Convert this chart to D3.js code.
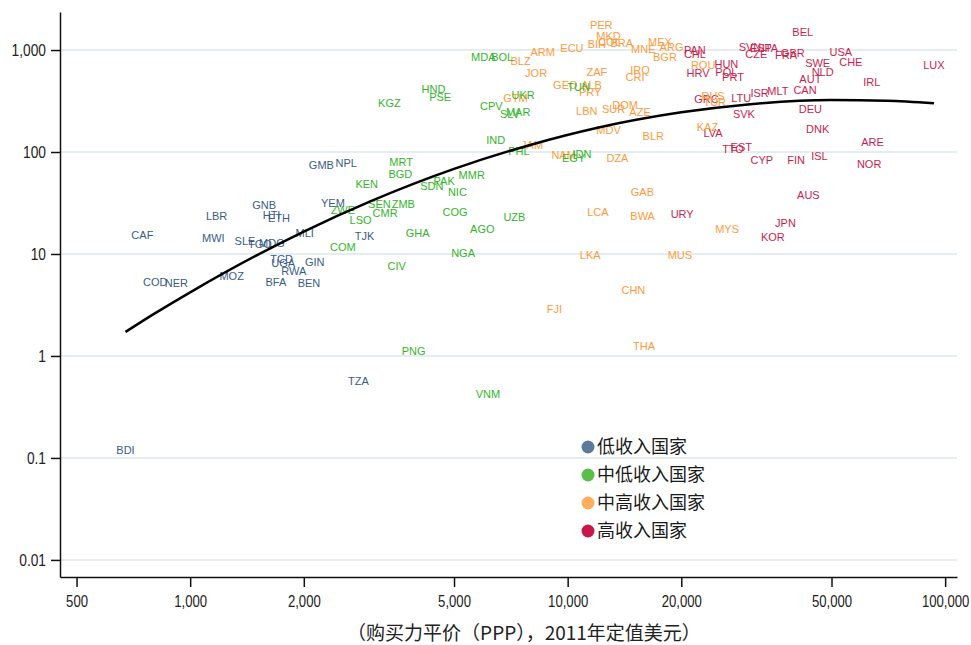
<!DOCTYPE html>
<html>
<head>
<meta charset="utf-8">
<script src="https://cdn.jsdelivr.net/npm/d3@7"></script>
<style>
  body { margin: 0; background: #fff; }
  .axis text { font-family: "Liberation Sans", Arial, sans-serif; font-size: 16px; fill: #222; }
  .axis path, .axis line { stroke: #111; stroke-width: 1.5; }
  .code { font-family: "Liberation Sans", Arial, sans-serif; font-size: 11px; }
  .legend text { font-family: "Noto Sans CJK SC", sans-serif; font-size: 18px; fill: #1a1a1a; }
  .title { font-family: "Noto Sans CJK SC", sans-serif; font-size: 19px; fill: #222; }
</style>
</head>
<body>
<svg id="chart" width="971" height="645"></svg>
<script>
// low income
let lowCodes = ['CAF','LBR','MWI','GNB','HTI','ETH','SLE','TGO','MDG','MLI','TCD','UGA','RWA','GIN','COD','NER','MOZ','BFA','BEN','GMB','NPL','YEM','TJK','TZA','BDI'];
let lowGdp   = [747,1175,1152,1570,1643,1718,1397,1530,1646,2011,1746,1763,1881,2137,808,919,1288,1687,2064,2226,2591,2388,2895,2792,674];
let lowVal   = [15.2,23.4,14.5,30.0,24.0,22.7,13.4,12.45,12.7,15.95,8.87,8.22,6.81,8.29,5.28,5.16,6.08,5.28,5.16,74.6,78.6,31.8,15.1,0.569,0.12];

// lower middle income
let lmCodes = ['MRT','BGD','KEN','SEN','ZMB','ZWE','CMR','LSO','COM','GHA','SDN','PAK','MMR','NIC','COG','AGO','UZB','NGA','CIV','KGZ','HND','PSE','CPV','MDA','BOL','UKR','SLV','MAR','IND','PHL','EGY','IDN','TUN','PNG','VNM'];
let lmGdp   = [3620,3603,2936,3172,3669,2538,3284,2827,2538,4003,4369,4708,5570,5104,5033,5941,7226,5284,3524,3371,4412,4595,6275,5976,6706,7623,7031,7394,6445,7425,10370,10905,10690,3907,6151];
let lmVal   = [79.3,60.8,48.6,30.9,30.9,27.0,25.1,21.4,11.8,15.95,46.7,52.0,59.9,40.3,25.6,17.5,23.05,10.16,7.58,304,412,348,282,848,848,362,234,248,131,103,86.8,95.6,437,1.127,0.424];

// upper middle income
let umCodes = ['GTM','JAM','NAM','GEO','ALB','PRY','LBN','SUR','DOM','AZE','MDV','BLR','PER','MKD','BIH','COL','BRA','MEX','MNE','ARG','BGR','ECU','ARM','BLZ','JOR','ZAF','IRQ','CRI','ROU','RUS','TUR','KAZ','MYS','DZA','GAB','LCA','BWA','LKA','MUS','CHN','FJI','THA'];
let umGdp   = [7278,8050,9759,9860,11568,11477,11240,13226,14196,15553,12830,16860,12270,12830,11950,12905,13908,17560,15866,18845,18100,10264,8590,7503,8250,11950,15553,15087,22850,24280,24530,23460,26440,13550,15773,12022,15800,11477,19830,14930,9224,15936];
let umVal   = [336,117,93.4,454,454,390,254,264,289,248,164,143.5,1759,1372,1145,1206,1163,1206,1016,1063,860,1039,949,780,591,613,637,547,713,354,311,174.7,17.6,86.8,40.5,25.8,23.6,9.78,9.78,4.44,2.87,1.253];

// high income
let hiCodes = ['PAN','CHL','HUN','HRV','POL','PRT','SVN','ESP','ITA','CZE','FRA','GBR','BEL','USA','SWE','CHE','NLD','AUT','CAN','IRL','LUX','ISR','MLT','LTU','GRC','SVK','DEU','DNK','LVA','TTO','EST','CYP','FIN','ISL','ARE','NOR','AUS','JPN','KOR','URY'];
let hiGdp   = [21730,21730,26330,22160,26330,27420,30400,32510,34330,31590,37900,39480,41950,52930,45950,56250,47370,43950,42540,63910,93400,32250,36040,28840,23320,29310,43950,45950,24280,27420,28840,32700,40270,46440,64180,62900,43420,37760,34960,20110];
let hiVal   = [1000,914,729,599,613,540,1070,1058,1058,914,894,941,1512,949,741,768,605,516,405,482,713,381,396,336,329,234,264,168,154.6,106.3,112.7,82.9,82.9,91.4,124.5,75.8,37.6,20.0,14.8,24.7];

// fitted trend
let trendGdp = [674,800,1000,1500,2000,3000,5000,8000,12000,20000,30000,50000,70000,93400];
let trendVal = [1.72,2.57,4.21,9.70,16.6,32.8,68.3,118,173,245,293,323,319,301];

let xTicks = [500,1000,2000,5000,10000,20000,50000,100000];
let yTicks = [0.01,0.1,1,10,100,1000];

let groups = [
  {name: '高收入国家',   codes: hiCodes,  gdp: hiGdp,  val: hiVal,  text: '#c81e4e', dot: '#c8184a'},
  {name: '中高收入国家', codes: umCodes,  gdp: umGdp,  val: umVal,  text: '#ff9a3c', dot: '#ffae5e'},
  {name: '中低收入国家', codes: lmCodes,  gdp: lmGdp,  val: lmVal,  text: '#33b52b', dot: '#5bbd4a'},
  {name: '低收入国家',   codes: lowCodes, gdp: lowGdp, val: lowVal, text: '#3a5c84', dot: '#5b7a99'}
];
let legendOrder = ['低收入国家','中低收入国家','中高收入国家','高收入国家'];

let svg = d3.select('#chart');

let x = d3.scaleLog().domain([452, 107500]).range([60, 957]);
let y = d3.scaleLog().domain([0.0068, 2360]).range([577, 12]);
let fmt = d3.format(',');

// gridlines
svg.append('g').selectAll('line')
    .data(yTicks).enter().append('line')
    .attr('x1', 60).attr('x2', 957)
    .attr('y1', d => y(d)).attr('y2', d => y(d))
    .style('stroke', '#e6edf1').style('stroke-width', 2);

// country codes
groups.forEach(function(g) {
  svg.append('g').selectAll('text')
      .data(g.codes).enter().append('text')
      .classed('code', true)
      .attr('x', (d, i) => x(g.gdp[i]))
      .attr('y', (d, i) => y(g.val[i]))
      .attr('text-anchor', 'middle')
      .attr('dominant-baseline', 'central')
      .style('fill', g.text)
      .text(d => d);
});

// trend
let line = d3.line()
    .x((d, i) => x(trendGdp[i]))
    .y((d, i) => y(trendVal[i]))
    .curve(d3.curveMonotoneX);
svg.append('path')
    .attr('d', line(trendGdp))
    .style('fill', 'none').style('stroke', '#000').style('stroke-width', 2.5);

// axes
let yAxis = svg.append('g').classed('axis', true)
    .attr('transform', 'translate(60,0)')
    .call(d3.axisLeft(y).tickValues(yTicks).tickFormat(fmt).tickSize(9).tickSizeOuter(0).tickPadding(5));
let xAxis = svg.append('g').classed('axis', true)
    .attr('transform', 'translate(0,577)')
    .call(d3.axisBottom(x).tickValues(xTicks).tickFormat(fmt).tickSize(10).tickSizeOuter(0).tickPadding(9));

// narrow the tick labels, the original uses a condensed face
yAxis.selectAll('.tick text')
    .attr('x', 0)
    .attr('transform', 'translate(-14,0) scale(0.86,1)');
xAxis.selectAll('.tick text')
    .attr('transform', 'scale(0.82,1)');

svg.append('text').classed('title', true)
    .attr('x', 524).attr('y', 640)
    .attr('text-anchor', 'middle')
    .text('（购买力平价（PPP），2011年定值美元）');

// legend
let legend = svg.append('g').classed('legend', true)
    .selectAll('g').data(legendOrder).enter().append('g')
    .attr('transform', (d, i) => 'translate(588,' + (447 + i * 28) + ')');
legend.append('circle').attr('r', 6.5)
    .style('fill', d => groups.find(g => g.name === d).dot);
legend.append('text').attr('x', 9).attr('dy', '0.35em').text(d => d);
</script>
</body>
</html>
